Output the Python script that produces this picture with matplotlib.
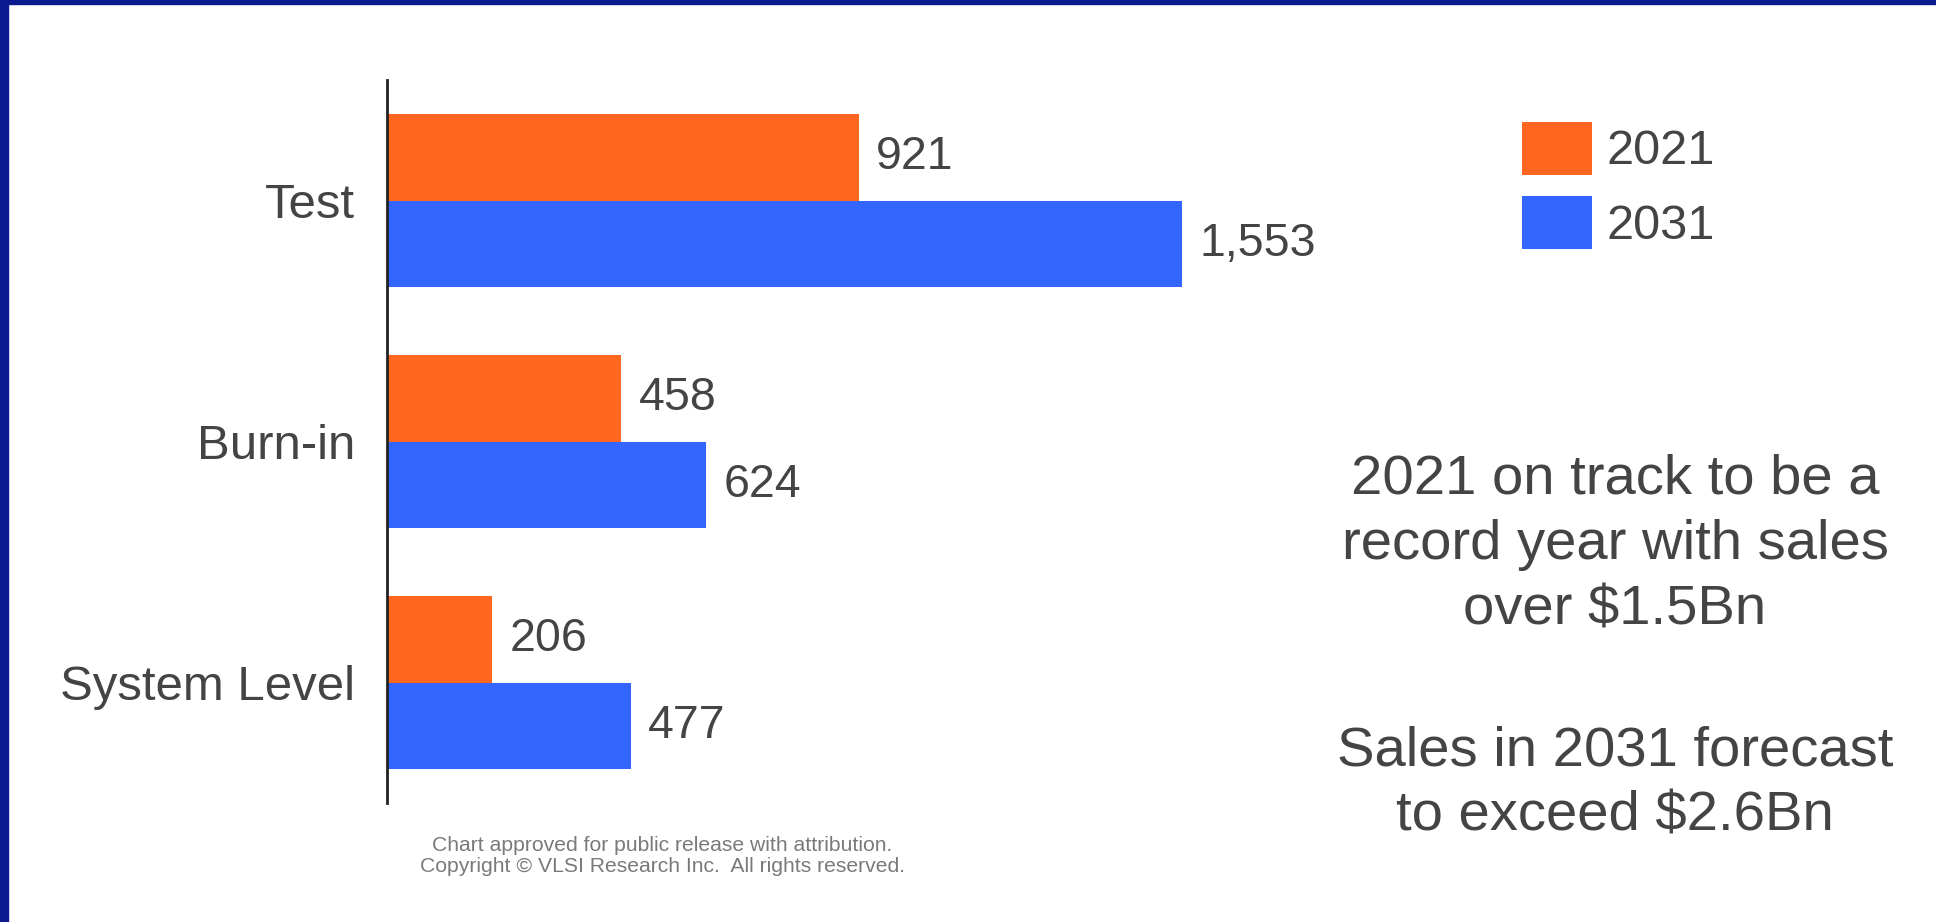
import matplotlib.pyplot as plt
from matplotlib.patches import Rectangle

plt.rcParams['font.family'] = ['Liberation Sans', 'DejaVu Sans']

categories = ['Test', 'Burn-in', 'System Level']
years = ['2021', '2031']
sales_2021 = [921, 458, 206]
sales_2031 = [1553, 624, 477]
note_2021 = '2021 on track to be a\nrecord year with sales\nover $1.5Bn'
note_2031 = 'Sales in 2031 forecast\nto exceed $2.6Bn'
credit = ('Chart approved for public release with attribution.\n'
          'Copyright \u00a9 VLSI Research Inc.  All rights reserved.')

orange = '#FF6620'
blue = '#3366FF'
navy = '#0B1A8E'
text_grey = '#444444'

W, H = 1936, 922
fig = plt.figure(figsize=(W / 100, H / 100), dpi=100)

# frame strips on the left and top
fig.add_artist(Rectangle((0, 0), 8 / W, 1, transform=fig.transFigure, color=navy, zorder=5))
fig.add_artist(Rectangle((0, 1 - 4 / H), 1, 4 / H, transform=fig.transFigure, color=navy, zorder=5))

ax = fig.add_axes([387 / W, (H - 803) / H, 1536 / W, 723 / H])
xmax = 3000
ax.set_xlim(0, xmax)
ax.set_ylim(2.5, -0.5)

pos = list(range(len(categories)))
h = 0.36
b1 = ax.barh([p - h / 2 for p in pos], sales_2021, height=h, color=orange, label=years[0])
b2 = ax.barh([p + h / 2 for p in pos], sales_2031, height=h, color=blue, label=years[1])

for bars in (b1, b2):
    for rect in bars:
        v = rect.get_width()
        ax.text(v + 33, rect.get_y() + rect.get_height() / 2, f'{v:,.0f}',
                va='center', ha='left', fontsize=33.5, color=text_grey)

ax.set_yticks(pos)
ax.set_yticklabels(categories, fontsize=35.4, color=text_grey)
ax.tick_params(axis='y', length=0, pad=23)
ax.set_xticks([])
for side in ('top', 'right', 'bottom'):
    ax.spines[side].set_visible(False)
ax.spines['left'].set_color('#222222')
ax.spines['left'].set_linewidth(2)

leg = fig.legend(handles=[b1, b2], labels=years, loc='upper left',
                 bbox_to_anchor=(1512 / W, 1 - 112 / H), frameon=False,
                 fontsize=35, handlelength=1.45, handleheight=1.3,
                 handletextpad=0.3, labelspacing=0.44, borderaxespad=0,
                 borderpad=0.2)
for t in leg.get_texts():
    t.set_color(text_grey)

fig.text(1615 / W, 1 - 545 / H, note_2021, ha='center', va='center', fontsize=40.5,
         color=text_grey, linespacing=1.33)
fig.text(1615 / W, 1 - 784 / H, note_2031, ha='center', va='center', fontsize=40.5,
         color=text_grey, linespacing=1.33)

fig.text(662 / W, 1 - 856 / H, credit, ha='center', va='center', fontsize=15.2,
         color='#7a7a7a', linespacing=1.15)

fig.savefig('out.png', dpi=100, facecolor='white')
